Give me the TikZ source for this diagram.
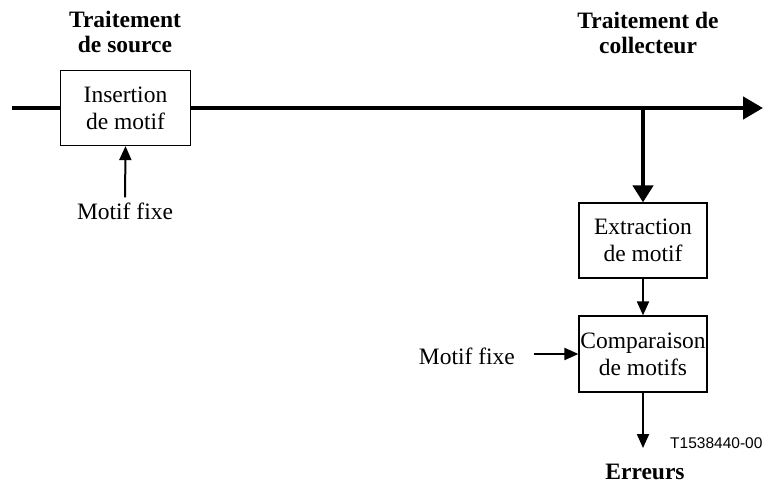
\documentclass[tikz,border=0pt]{standalone}
\usepackage{fontspec}
\setmainfont{Liberation Serif}
\newfontfamily\labelfont{Liberation Sans}
\usetikzlibrary{arrows.meta}
\begin{document}
\begin{tikzpicture}[x=1pt,y=-1pt,
  every node/.style={inner sep=0pt,font=\fontsize{23.5}{27}\selectfont},
  blockbox/.style={draw,line width=1.2pt,align=center},
  heading/.style={align=center,font=\fontsize{23.5}{25}\selectfont\bfseries},
  plain/.style={align=center},
  mainflow/.style={line width=4.5pt},
  thinflow/.style={line width=2pt,-{Triangle[length=14pt,width=12pt]}},
  thickflow/.style={line width=4.5pt}]
  \useasboundingbox (0,0) rectangle (765,486);

  % headings
  \node[heading] (hsrc) at (125,32) {Traitement\\de source};
  \node[heading] (hcol) at (648,33) {Traitement de\\collecteur};

  % blocks
  \node[blockbox,minimum width=130pt,minimum height=75pt] (ins) at (125.5,108) {Insertion\\de motif};
  \node[blockbox,minimum width=128pt,minimum height=75pt] (ext) at (643,240.5) {Extraction\\de motif};
  \node[blockbox,minimum width=128pt,minimum height=76pt] (cmp) at (643,354) {Comparaison\\de motifs};

  % input labels
  \node[plain] (mf1) at (125,211) {Motif fixe};
  \node[plain,anchor=east] (mf2) at (515,356) {Motif fixe};

  % output label and code
  \node[heading] (err) at (645,472) {Erreurs};
  \node[anchor=west,font=\fontsize{15.5}{17}\labelfont] (code) at (670,443) {T1538440-00};

  % main signal path
  \coordinate (lin) at (12,108);
  \coordinate (lout) at (763,108);
  \coordinate (tap) at (643,108);
  \coordinate (errin) at (643,448);
  \draw[mainflow] (lin) -- (ins.west);
  \draw[mainflow,-{Triangle[length=20pt,width=22pt]}] (ins.east) -- (lout);
  \draw[thickflow,-{Triangle[length=17pt,width=20pt]}] (tap) -- (ext.north);

  % thin connectors
  \draw[thinflow,shorten <=5pt] (mf1.north) -- (ins.south);
  \draw[thinflow] (ext.south) -- (cmp.north);
  \draw[thinflow,shorten <=19pt] (mf2.east |- cmp.west) -- (cmp.west);
  \draw[thinflow] (cmp.south) -- (errin);
\end{tikzpicture}
\end{document}
